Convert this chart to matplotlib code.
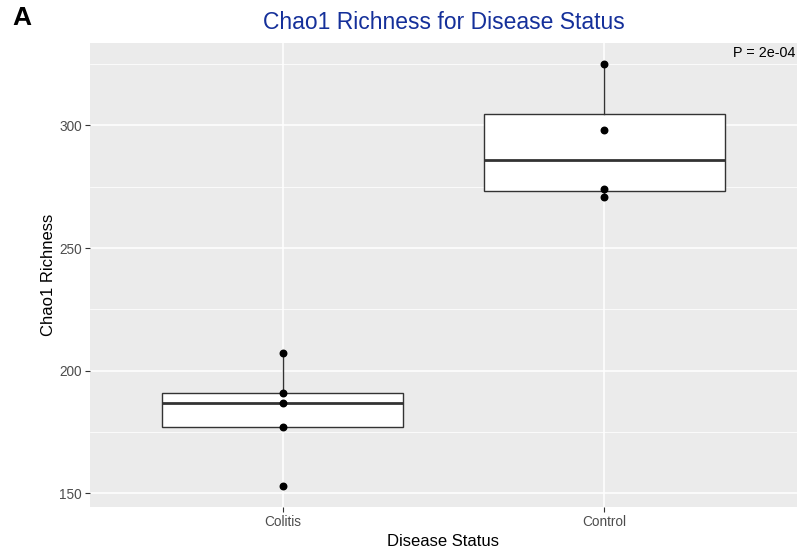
import numpy as np
import matplotlib
matplotlib.use('Agg')
import matplotlib.pyplot as plt

plt.rcParams['font.family'] = ['Liberation Sans', 'DejaVu Sans']

# values
groups = ['Colitis', 'Control']
colitis_vals = [207, 191, 187, 177, 153]
control_vals = [325, 298, 274, 271]
p_label = 'P = 2e-04'
y_ticks = [150, 200, 250, 300]
y_minor = [175, 225, 275, 325]


def main():
    fig = plt.figure(figsize=(7.99, 5.54), dpi=100)
    ax = fig.add_axes([90 / 799, 47 / 554, 707 / 799, 464 / 554])
    ax.set_facecolor('#EBEBEB')
    for s in ax.spines.values():
        s.set_visible(False)

    data = [colitis_vals, control_vals]
    pos = np.arange(1, len(groups) + 1)

    # grid first so it sits under the boxes
    ax.set_axisbelow(True)
    ax.set_yticks(y_ticks)
    ax.set_yticks(y_minor, minor=True)
    ax.grid(which='major', color='white', linewidth=1.1)
    ax.grid(which='minor', axis='y', color='white', linewidth=0.55)

    ax.boxplot(data, positions=pos, widths=0.75, showfliers=False,
               patch_artist=True, whis=1.5,
               boxprops=dict(facecolor='white', edgecolor='#333333', linewidth=1.0),
               medianprops=dict(color='#333333', linewidth=2.0),
               whiskerprops=dict(color='#333333', linewidth=1.0),
               capprops=dict(linewidth=0), zorder=2)

    for p, vals in zip(pos, data):
        ax.scatter([p] * len(vals), vals, s=22, color='black', zorder=3)

    all_vals = colitis_vals + control_vals
    lo, hi = min(all_vals), max(all_vals)
    pad = (hi - lo) * 0.05
    ax.set_ylim(lo - pad, hi + pad)
    ax.set_xlim(0.4, 2.6)
    ax.set_xticks(pos)
    ax.set_xticklabels(groups)

    ax.tick_params(axis='both', which='major', length=3.5, width=0.8,
                   color='#333333', labelcolor='#4D4D4D', labelsize=9.8, pad=2.5)
    ax.tick_params(axis='both', which='minor', length=0)

    ax.set_xlabel('Disease Status', fontsize=12, labelpad=3)
    ax.set_ylabel('Chao1 Richness', fontsize=12, labelpad=2)
    ax.set_title('Chao1 Richness for Disease Status', color='#15309A',
                 fontsize=16.5, pad=10)

    ax.annotate(p_label, xy=(1, 1), xycoords='axes fraction',
                xytext=(-1, -2), textcoords='offset points',
                ha='right', va='top', fontsize=10.4, color='black')

    fig.text(12 / 799, 1 - 6 / 554, 'A', fontsize=19, fontweight='bold',
             ha='left', va='top')

    fig.savefig('out.png', dpi=100)


if __name__ == '__main__':
    main()
